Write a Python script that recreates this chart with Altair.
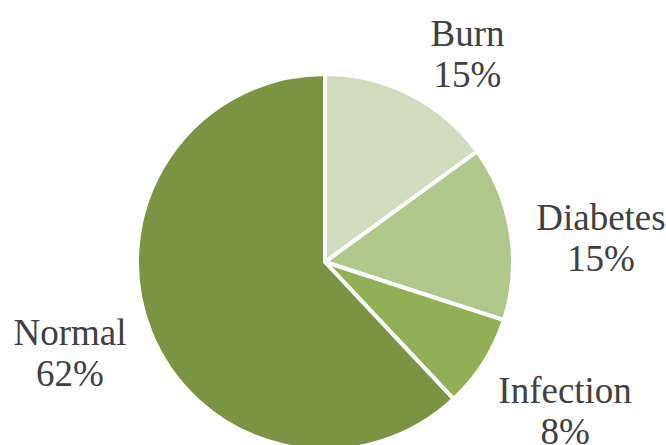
import altair as alt
import pandas as pd

categories = ["Burn", "Diabetes", "Infection", "Normal"]
values = [15, 15, 8, 62]
colors = ["#d0dcbb", "#afc78a", "#91b056", "#7a9444"]

df = pd.DataFrame({
    "category": categories,
    "value": values,
    "order": list(range(len(categories))),
    "label": [f"{c}\n{v}%" for c, v in zip(categories, values)],
})
total = sum(values)

pie = alt.Chart(df).mark_arc(outerRadius=188, stroke="white", strokeWidth=4).encode(
    theta=alt.Theta("value:Q", stack=True),
    order=alt.Order("order:Q", sort="ascending"),
    color=alt.Color("category:N", scale=alt.Scale(domain=categories, range=colors), legend=None),
    x=alt.value(325),
    y=alt.value(262),
)

text_style = dict(
    font="Liberation Serif",
    fontSize=37,
    color="#404040",
    lineBreak="\n",
    lineHeight=41,
    align="center",
    baseline="middle",
    dy=-20,
)

label_base = alt.Chart(df).transform_window(
    cum="sum(value)", sort=[alt.SortField("order")]
).transform_calculate(
    mid="datum.cum - datum.value / 2"
).encode(
    theta=alt.Theta("mid:Q", scale=alt.Scale(domain=[0, total], zero=True)),
    text="label:N",
)

labels_right = label_base.mark_text(radius=250, **text_style).encode(
    x=alt.value(354),
    y=alt.value(278),
).transform_filter(alt.datum.category != "Normal")

labels_left = label_base.mark_text(radius=270, **text_style).encode(
    x=alt.value(321),
    y=alt.value(255),
).transform_filter(alt.datum.category == "Normal")

chart = (pie + labels_right + labels_left).properties(
    width=666, height=445, padding=0, autosize=alt.AutoSizeParams(type="none")
).resolve_scale(theta="independent").configure_view(stroke=None)

chart.save("out.html", embed_options={"renderer": "svg", "actions": False})
